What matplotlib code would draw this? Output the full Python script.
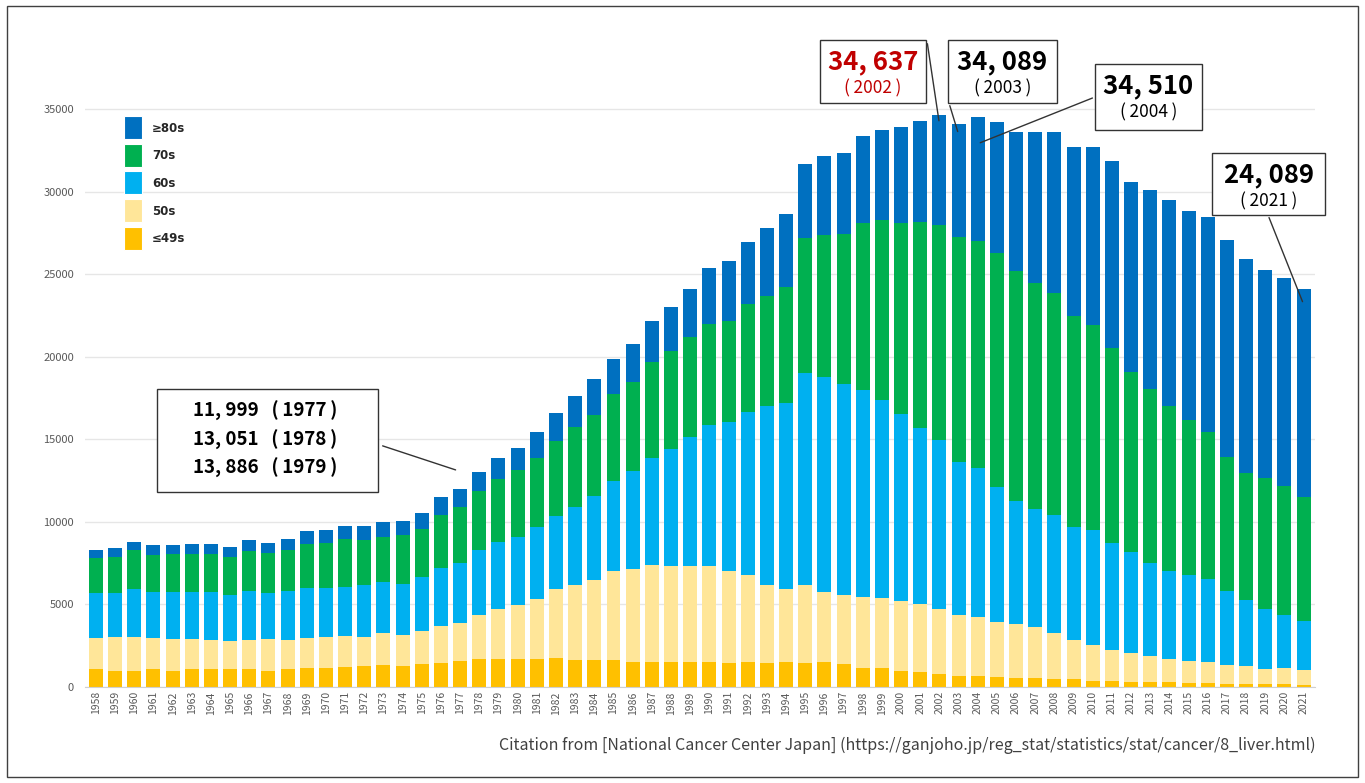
import matplotlib.pyplot as plt
import numpy as np
from matplotlib.patches import Rectangle

years = list(range(1958, 2022))

# cases by age group
age_49 = [1070, 990, 990, 1070, 990, 1070, 1070, 1070, 1070, 990, 1070, 1130, 1130, 1190, 1250, 1310,
          1250, 1370, 1430, 1560, 1690, 1690, 1690, 1690, 1760, 1610, 1610, 1610, 1490, 1490, 1490, 1490,
          1490, 1430, 1490, 1430, 1490, 1430, 1490, 1370, 1180, 1160, 960, 890, 760, 690, 690, 610,
          530, 530, 460, 460, 380, 380, 330, 330, 330, 250, 250, 200, 200, 200, 200, 130]
age_50 = [1900, 2040, 2060, 1900, 1920, 1840, 1780, 1700, 1780, 1920, 1780, 1840, 1900, 1900, 1780, 1960,
          1900, 2020, 2270, 2320, 2660, 3020, 3270, 3640, 4200, 4590, 4900, 5410, 5650, 5900, 5840, 5840,
          5840, 5590, 5270, 4770, 4470, 4770, 4290, 4220, 4270, 4240, 4240, 4140, 3940, 3700, 3570, 3320,
          3280, 3100, 2810, 2380, 2160, 1880, 1730, 1520, 1370, 1320, 1270, 1150, 1070, 870, 940, 890]
age_60 = [2750, 2690, 2910, 2810, 2870, 2870, 2930, 2830, 2990, 2810, 2990, 3050, 2990, 2990, 3130, 3070,
          3110, 3260, 3490, 3640, 3920, 4050, 4100, 4360, 4410, 4680, 5040, 5470, 5960, 6510, 7080, 7810,
          8550, 9040, 9870, 10800, 11220, 12800, 13020, 12780, 12550, 12000, 11350, 10660, 10250, 9240, 8990, 8200,
          7480, 7160, 7140, 6860, 6950, 6470, 6090, 5690, 5330, 5210, 5050, 4460, 3980, 3680, 3250, 2990]
age_70 = [2080, 2180, 2340, 2220, 2280, 2280, 2280, 2280, 2400, 2400, 2460, 2650, 2710, 2890, 2750, 2750,
          2950, 2930, 3210, 3370, 3630, 3850, 4100, 4210, 4530, 4900, 4940, 5270, 5350, 5770, 5940, 6060,
          6120, 6140, 6580, 6670, 7040, 8230, 8590, 9100, 10080, 10900, 11530, 12490, 13050, 13650, 13780, 14140,
          13910, 13700, 13450, 12760, 12460, 11830, 10960, 10530, 9970, 9390, 8860, 8150, 7740, 7890, 7790, 7490]
age_80 = [500, 520, 490, 600, 540, 630, 630, 600, 670, 610, 670, 780, 790, 790, 850, 910,
          850, 970, 1110, 1109, 1151, 1276, 1340, 1550, 1700, 1870, 2160, 2140, 2300, 2530, 2700, 2900,
          3400, 3600, 3760, 4110, 4460, 4470, 4790, 4890, 5330, 5450, 5850, 6120, 6637, 6809, 7480, 7980,
          8450, 9110, 9790, 10240, 10750, 11290, 11490, 12030, 12500, 12680, 13070, 13140, 12960, 12610, 12620, 12589]

series = [age_49, age_50, age_60, age_70, age_80]
labels = ["≤49s", "50s", "60s", "70s", "≥80s"]
colors = ["#FFC000", "#FFE699", "#00B0F0", "#00B050", "#0070C0"]

plt.rcParams['font.family'] = ['Noto Sans CJK JP', 'DejaVu Sans']

fig = plt.figure(figsize=(13.65, 7.83), dpi=100)
ax = fig.add_axes([0.0623, 0.1226, 0.9011, 0.7484])

x = np.arange(len(years))
bottom = np.zeros(len(years))
for vals, lab, col in zip(series, labels, colors):
    ax.bar(x, vals, bottom=bottom, width=0.73, color=col, label=lab, zorder=2)
    bottom += np.array(vals)
totals = bottom

ax.set_xlim(-0.57, len(years) - 0.4)
ax.set_ylim(0, 35500)
ax.set_yticks(range(0, 35001, 5000))
ax.set_xticks(x)
ax.set_xticklabels([str(y) for y in years], rotation=90, fontsize=7.5, color="#595959")
ax.tick_params(axis='y', labelsize=8, labelcolor="#595959", length=0, pad=8)
ax.tick_params(axis='x', length=0, pad=3)
ax.grid(axis='y', color="#e6e6e6", linewidth=1, zorder=0)
for s in ['top', 'right', 'left']:
    ax.spines[s].set_visible(False)
ax.spines['bottom'].set_color("#d0d0d0")


def fx(px):
    return px / 1365


def fy(py):
    return 1 - py / 783


# legend, drawn by hand to get the tall squares
for k, (lab, col) in enumerate(zip(labels[::-1], colors[::-1])):
    top = 116 + k * 27.7
    fig.patches.append(Rectangle((fx(124), fy(top + 23)), fx(142) - fx(124), 23 / 783,
                                 transform=fig.transFigure, facecolor=col,
                                 edgecolor='white', linewidth=0.8))
    fig.text(fx(152), fy(top + 12), lab, family=['DejaVu Sans'],
             weight='bold', fontsize=8.5, color="#262626", ha='left', va='center')

num_font = ['Noto Sans CJK JP', 'DejaVu Sans']


def box(x0, y0, x1, y1):
    fig.patches.append(Rectangle((fx(x0), fy(y1)), fx(x1) - fx(x0), fy(y0) - fy(y1),
                                 transform=fig.transFigure, facecolor='white',
                                 edgecolor='#333333', linewidth=1, zorder=5))


def callout(idx, total, color, x0, y0, x1, y1, start, end_off):
    box(x0, y0, x1, y1)
    cx = (x0 + x1) / 2
    fig.text(fx(cx), fy(y0 + 22), f"{total:,.0f}".replace(",", ", "), color=color,
             family=num_font, fontsize=18.5, weight='bold', ha='center', va='center', zorder=6)
    fig.text(fx(cx), fy(y0 + 48), f"(\u2009{years[idx]}\u2009)", color=color,
             family=num_font, fontsize=12.5, ha='center', va='center', zorder=6)
    ax.annotate("", xy=(idx, total - end_off), xycoords='data',
                xytext=(fx(start[0]), fy(start[1])), textcoords='figure fraction',
                arrowprops=dict(arrowstyle='-', color='#333333', lw=1), zorder=6)


i02, i03, i04, i21 = years.index(2002), years.index(2003), years.index(2004), years.index(2021)
callout(i02, totals[i02], "#C00000", 820, 40, 926, 103, (927, 41), 500)
callout(i03, totals[i03], "black", 948, 40, 1057, 103, (949, 103), 600)
callout(i04, totals[i04], "black", 1095, 64, 1202, 130, (1095, 97), 1600)
callout(i21, totals[i21], "black", 1212, 153, 1325, 215, (1268, 215), 900)

# 1977-1979 box
box(157, 389, 378, 492)
for k, yy in enumerate([1977, 1978, 1979]):
    i = years.index(yy)
    val = f"{totals[i]:,.0f}".replace(",", ", ")
    fig.text(fx(265), fy(411 + k * 28.5), f"{val}   (\u2009{yy}\u2009)", fontsize=13.5,
             family=num_font, weight='bold', ha='center', va='center', zorder=6)
i77 = years.index(1977)
ax.annotate("", xy=(i77 - 0.1, totals[i77] + 1100), xycoords='data',
            xytext=(fx(380), fy(445)), textcoords='figure fraction',
            arrowprops=dict(arrowstyle='-', color='#333333', lw=1), zorder=6)

fig.text(fx(1316), fy(745),
         "Citation from [National Cancer Center Japan] (https://ganjoho.jp/reg_stat/statistics/stat/cancer/8_liver.html)",
         fontsize=11.5, color="#404040", ha='right', va='center')

fig.patches.append(Rectangle((fx(7), fy(777)), fx(1358) - fx(7), fy(6) - fy(777),
                             transform=fig.transFigure, fill=False,
                             edgecolor='#404040', linewidth=1))

fig.savefig("out.png", dpi=100)
